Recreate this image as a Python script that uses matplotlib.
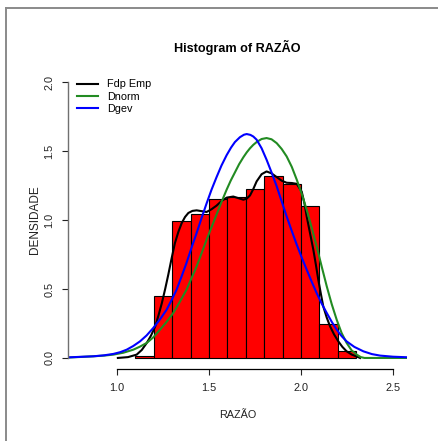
import matplotlib
matplotlib.use("Agg")
import matplotlib.pyplot as plt
from matplotlib.lines import Line2D

plt.rcParams['font.family'] = ['Liberation Sans', 'DejaVu Sans']

# histogram (density scale)
bin_edges = [1.1, 1.2, 1.3, 1.4, 1.5, 1.6, 1.7, 1.8, 1.9, 2.0, 2.1, 2.2, 2.3]
bin_density = [0.017, 0.451, 0.995, 1.041, 1.152, 1.167, 1.227, 1.321,
               1.261, 1.104, 0.248, 0.048]

emp_x = [1.005, 1.060, 1.107, 1.135, 1.162, 1.185, 1.208, 1.226, 1.244, 1.262,
         1.279, 1.297, 1.315, 1.334, 1.352, 1.370, 1.388, 1.410, 1.433, 1.460,
         1.487, 1.514, 1.541, 1.568, 1.596, 1.632, 1.668, 1.687, 1.705, 1.723,
         1.741, 1.759, 1.786, 1.813, 1.840, 1.868, 1.895, 1.922, 1.950, 1.977,
         2.004, 2.018, 2.031, 2.049, 2.067, 2.081, 2.094, 2.108, 2.121, 2.140,
         2.158, 2.180, 2.203, 2.225, 2.248, 2.275, 2.303, 2.321]
emp_y = [0.0, 0.006, 0.024, 0.058, 0.109, 0.162, 0.229, 0.310, 0.398, 0.500,
         0.604, 0.722, 0.833, 0.915, 0.978, 1.022, 1.051, 1.066, 1.070, 1.064,
         1.058, 1.078, 1.104, 1.137, 1.162, 1.170, 1.155, 1.147, 1.155, 1.178,
         1.225, 1.280, 1.332, 1.352, 1.338, 1.311, 1.285, 1.270, 1.268, 1.262,
         1.205, 1.125, 1.026, 0.905, 0.785, 0.675, 0.567, 0.465, 0.374, 0.292,
         0.229, 0.170, 0.120, 0.080, 0.048, 0.025, 0.010, 0.0]

# green curve
norm_x = [0.734, 0.800, 0.872, 0.930, 0.980, 1.035, 1.089, 1.125, 1.162, 1.198,
          1.234, 1.270, 1.306, 1.342, 1.378, 1.405, 1.433, 1.460, 1.487, 1.514,
          1.541, 1.568, 1.596, 1.618, 1.641, 1.664, 1.687, 1.705, 1.723, 1.741,
          1.759, 1.786, 1.813, 1.840, 1.868, 1.895, 1.922, 1.950, 1.977, 2.004,
          2.031, 2.058, 2.085, 2.112, 2.140, 2.167, 2.194, 2.221, 2.248, 2.275,
          2.303, 2.325, 2.345, 2.576]
norm_y = [0.003, 0.007, 0.012, 0.017, 0.024, 0.038, 0.060, 0.082, 0.109, 0.150,
          0.205, 0.262, 0.326, 0.408, 0.495, 0.578, 0.664, 0.760, 0.857, 0.948,
          1.039, 1.130, 1.220, 1.285, 1.345, 1.405, 1.455, 1.490, 1.520, 1.545,
          1.565, 1.587, 1.594, 1.585, 1.557, 1.515, 1.461, 1.385, 1.292, 1.190,
          1.074, 0.945, 0.809, 0.665, 0.519, 0.390, 0.277, 0.180, 0.109, 0.055,
          0.024, 0.006, 0.0, 0.0]

# blue curve
gev_x = [0.734, 0.800, 0.872, 0.930, 0.980, 1.018, 1.053, 1.089, 1.125, 1.161,
         1.197, 1.234, 1.270, 1.297, 1.324, 1.351, 1.378, 1.405, 1.433, 1.460,
         1.487, 1.514, 1.541, 1.568, 1.596, 1.620, 1.641, 1.668, 1.690, 1.705,
         1.725, 1.741, 1.759, 1.786, 1.813, 1.840, 1.868, 1.895, 1.922, 1.950,
         1.977, 2.004, 2.031, 2.058, 2.085, 2.112, 2.140, 2.167, 2.194, 2.221,
         2.248, 2.290, 2.339, 2.385, 2.430, 2.500, 2.576]
gev_y = [0.004, 0.008, 0.012, 0.019, 0.029, 0.042, 0.060, 0.087, 0.120, 0.163,
         0.217, 0.280, 0.350, 0.420, 0.495, 0.590, 0.689, 0.798, 0.906, 1.015,
         1.120, 1.220, 1.310, 1.395, 1.470, 1.525, 1.565, 1.600, 1.618, 1.623,
         1.617, 1.605, 1.582, 1.520, 1.437, 1.345, 1.244, 1.135, 1.026, 0.920,
         0.821, 0.728, 0.640, 0.553, 0.471, 0.395, 0.326, 0.262, 0.205, 0.158,
         0.120, 0.080, 0.048, 0.028, 0.017, 0.009, 0.005]

fig = plt.figure(figsize=(4.39, 4.41), dpi=100)
ax = fig.add_axes([0.1549, 0.1633, 0.7722, 0.6757])

widths = [b - a for a, b in zip(bin_edges[:-1], bin_edges[1:])]
ax.bar(bin_edges[:-1], bin_density, width=widths, align='edge',
       color='#ff0000', edgecolor='black', linewidth=0.8)

ax.plot(emp_x, emp_y, color='black', lw=1.5, label='Fdp Emp')
ax.plot(norm_x, norm_y, color='#228b22', lw=1.5, label='Dnorm')
ax.plot(gev_x, gev_y, color='#0000ff', lw=1.5, label='Dgev')

ax.set_xlim(0.734, 2.576)
ax.set_ylim(-0.08, 2.08)

# R-like axes
for s in ['top', 'right']:
    ax.spines[s].set_visible(False)
ax.spines['bottom'].set_bounds(1.0, 2.5)
ax.spines['left'].set_bounds(0.0, 2.0)
ax.spines['left'].set_color('#707070')
ax.spines['bottom'].set_linewidth(0.9)
ax.spines['left'].set_linewidth(1.0)

ax.set_xticks([1.0, 1.5, 2.0, 2.5])
ax.set_xticklabels(['1.0', '1.5', '2.0', '2.5'])
ax.set_yticks([0.0, 0.5, 1.0, 1.5, 2.0])
ax.set_yticklabels(['0.0', '0.5', '1.0', '1.5', '2.0'], rotation=90, va='center')
ax.tick_params(length=4.3, width=0.8, labelsize=7.8, pad=5.5, colors='#222222')

ax.set_xlabel('RAZÃO', fontsize=7.8, color='#222222')
ax.set_ylabel('DENSIDADE', fontsize=8.5, color='#222222')
ax.xaxis.set_label_coords(0.5, -0.154)
ax.xaxis.label.set_va('center')
ax.yaxis.set_label_coords(-0.0974, 0.5)
ax.yaxis.label.set_va('center')

fig.text(0.541, 0.8934, 'Histogram of RAZÃO', ha='center', va='center',
         fontsize=9.1, fontweight='bold')

ax.legend(loc='upper left', bbox_to_anchor=(0.027, 0.972), frameon=False,
          fontsize=7.8, handlelength=1.95, handletextpad=0.83, labelspacing=0.2,
          borderpad=0, borderaxespad=0)

# gray frame lines at left and top
fig.add_artist(Line2D([6 / 439, 6 / 439], [0, 1 - 8 / 441], color='#8a8a8a', lw=1.4))
fig.add_artist(Line2D([6 / 439, 1], [1 - 8 / 441, 1 - 8 / 441], color='#8a8a8a', lw=1.4))

fig.savefig('out.png', dpi=100)
